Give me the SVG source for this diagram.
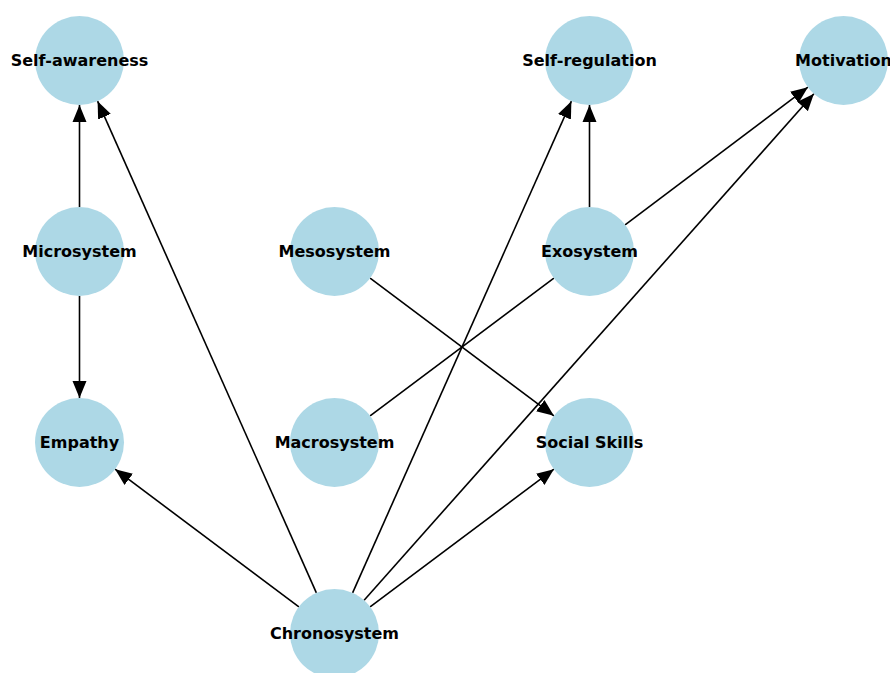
<svg xmlns="http://www.w3.org/2000/svg" width="890" height="673" viewBox="0 0 890 673">
<style>
.node circle{fill:#add8e6;}
.node text{font-family:"DejaVu Sans",sans-serif;font-weight:bold;font-size:16px;fill:#000;text-anchor:middle;dominant-baseline:central;}
.edges line{stroke:#000;stroke-width:1.6;}
.arr{marker-end:url(#ah);}
</style>
<defs>
<marker id="ah" markerUnits="userSpaceOnUse" markerWidth="18" markerHeight="15" refX="17" refY="7.5" orient="auto" viewBox="0 0 18 15">
<path d="M0,0.5 L17,7.5 L0,14.5 z" fill="#000"/>
</marker>
</defs>
<rect width="890" height="673" fill="#fff"/>
<g class="edges">
<line class="arr" x1="79.5" y1="207" x2="79.5" y2="105"/>
<line class="arr" x1="79.5" y1="296" x2="79.5" y2="398"/>
<line class="arr" x1="316.4" y1="592.8" x2="97.6" y2="101.2"/>
<line class="arr" x1="298.9" y1="606.8" x2="115.1" y2="469.2"/>
<line class="arr" x1="352.6" y1="592.8" x2="571.4" y2="101.2"/>
<line class="arr" x1="364.1" y1="600.2" x2="813.9" y2="93.8"/>
<line class="arr" x1="370.1" y1="606.8" x2="553.9" y2="469.2"/>
<line class="arr" x1="589.5" y1="207" x2="589.5" y2="105"/>
<line class="arr" x1="625.1" y1="224.8" x2="807.9" y2="87.2"/>
<line x1="370.1" y1="415.8" x2="553.9" y2="278.2"/>
<line class="arr" x1="370.1" y1="278.2" x2="553.9" y2="415.8"/>
</g>
<g id="self-awareness" class="node"><circle cx="79.5" cy="60.5" r="44.5"/><text x="79.5" y="60.5">Self-awareness</text></g>
<g id="self-regulation" class="node"><circle cx="589.5" cy="60.5" r="44.5"/><text x="589.5" y="60.5">Self-regulation</text></g>
<g id="motivation" class="node"><circle cx="843.5" cy="60.5" r="44.5"/><text x="843.5" y="60.5">Motivation</text></g>
<g id="microsystem" class="node"><circle cx="79.5" cy="251.5" r="44.5"/><text x="79.5" y="251.5">Microsystem</text></g>
<g id="mesosystem" class="node"><circle cx="334.5" cy="251.5" r="44.5"/><text x="334.5" y="251.5">Mesosystem</text></g>
<g id="exosystem" class="node"><circle cx="589.5" cy="251.5" r="44.5"/><text x="589.5" y="251.5">Exosystem</text></g>
<g id="empathy" class="node"><circle cx="79.5" cy="442.5" r="44.5"/><text x="79.5" y="442.5">Empathy</text></g>
<g id="macrosystem" class="node"><circle cx="334.5" cy="442.5" r="44.5"/><text x="334.5" y="442.5">Macrosystem</text></g>
<g id="social-skills" class="node"><circle cx="589.5" cy="442.5" r="44.5"/><text x="589.5" y="442.5">Social Skills</text></g>
<g id="chronosystem" class="node"><circle cx="334.5" cy="633.5" r="44.5"/><text x="334.5" y="633.5">Chronosystem</text></g>
</svg>
